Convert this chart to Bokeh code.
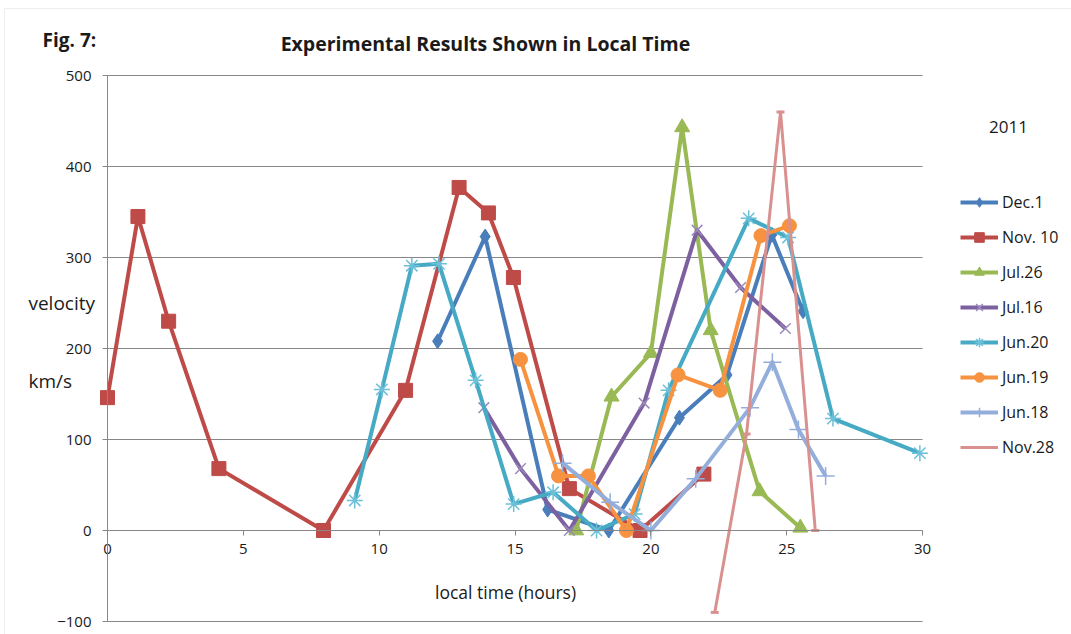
from bokeh.plotting import figure
from bokeh.models import (Range1d, Label, Legend, LegendItem, FixedTicker,
                          ColumnDataSource, BoxAnnotation)
from bokeh.embed import file_html
from bokeh.resources import INLINE

FONT = "Open Sans"

# axis ticks
x_ticks = [0, 5, 10, 15, 20, 25, 30]
y_ticks = [-100, 0, 100, 200, 300, 400, 500]

# local time (hours) and velocity (km/s) per observation day
dec1_t = [12.15, 13.9, 16.2, 18.45, 21.05, 22.8, 24.45, 25.6]
dec1_v = [208, 323, 23, 0, 124, 171, 325, 241]

nov10_t = [0, 1.12, 2.25, 4.1, 7.95, 10.97, 12.94, 14.02, 14.94, 17.0, 19.6, 21.95]
nov10_v = [146, 345, 230, 68, 0, 154, 377, 349, 278, 46, 0, 62]

jul26_t = [17.25, 18.55, 20.0, 21.15, 22.2, 24.0, 25.5]
jul26_v = [0, 147, 195, 443, 220, 43, 3]

jul16_t = [13.85, 15.2, 17.0, 19.75, 21.7, 23.3, 24.95]
jul16_v = [135, 68, 0, 140, 330, 267, 222]

jun20_t = [9.1, 10.1, 11.2, 12.2, 13.55, 14.95, 16.4, 18.0, 19.4, 20.65, 23.6, 25.05, 26.7, 29.9]
jun20_v = [33, 155, 291, 293, 165, 29, 42, 0, 18, 154, 343, 322, 123, 85]

jun19_t = [15.2, 16.6, 17.7, 19.1, 21.0, 22.55, 24.05, 25.1]
jun19_v = [188, 60, 60, 0, 171, 154, 324, 335]

jun18_t = [16.75, 18.5, 20.0, 21.65, 23.65, 24.47, 25.43, 26.43]
jun18_v = [74, 31, 0, 57, 135, 185, 111, 60]

nov28_t = [22.35, 23.52, 24.77, 26.05]
nov28_v = [-90, 106, 460, 0]

series = [
    # label, hours, velocity, line colour, marker, size, marker colour, marker line width
    ("Dec.1", dec1_t, dec1_v, "#4A7EBB", "diamond", 15, "#4A7EBB", 1),
    ("Nov. 10", nov10_t, nov10_v, "#BE4B48", "square", 14, "#BE4B48", 1),
    ("Jul.26", jul26_t, jul26_v, "#98B954", "triangle", 15, "#98B954", 1),
    ("Jul.16", jul16_t, jul16_v, "#7D60A0", "x", 15, "#9C88BC", 1.5),
    ("Jun.20", jun20_t, jun20_v, "#46AAC5", "asterisk", 16, "#6CC0D8", 1.5),
    ("Jun.19", jun19_t, jun19_v, "#F69240", "circle", 14, "#F69240", 1),
    ("Jun.18", jun18_t, jun18_v, "#93AEDB", "cross", 18, "#93AEDB", 1.5),
    ("Nov.28", nov28_t, nov28_v, "#D9918F", "dash", 8, "#D9918F", 3),
]

# The frame spans the whole canvas; axes sit at fixed data positions with bounds,
# so that titles, axis texts and the legend around the plot area are all drawn.
PX_PER_HOUR = 27.17
PX_PER_KMS = 0.91
x0_px, y0_px = 107, 530
W, H = 1071, 634
x_range = Range1d(-x0_px / PX_PER_HOUR, (W - x0_px) / PX_PER_HOUR)
y_range = Range1d(-(H - y0_px) / PX_PER_KMS, y0_px / PX_PER_KMS)

p = figure(width=W, height=H, x_range=x_range, y_range=y_range,
           output_backend="svg", toolbar_location=None,
           min_border=0)
p.outline_line_color = None
p.background_fill_color = "white"
p.border_fill_color = "white"

grey = "#878787"
ink = "#1a1a1a"

# y axis at zero hours
p.yaxis.fixed_location = 0
p.yaxis.bounds = (y_ticks[0], y_ticks[-1])
p.yaxis.ticker = FixedTicker(ticks=y_ticks)
p.yaxis.minor_tick_line_color = None
p.yaxis.major_tick_in = 0
p.yaxis.major_tick_out = 5
p.yaxis.axis_line_color = grey
p.yaxis.major_tick_line_color = grey
p.yaxis.major_label_text_font = FONT
p.yaxis.major_label_text_font_size = "15px"
p.yaxis.major_label_text_color = ink
p.yaxis.major_label_standoff = 11

# x axis crossing at zero velocity
p.xaxis.fixed_location = 0
p.xaxis.bounds = (x_ticks[0], x_ticks[-1])
p.xaxis.ticker = FixedTicker(ticks=x_ticks)
p.xaxis.minor_tick_line_color = None
p.xaxis.major_tick_in = 0
p.xaxis.major_tick_out = 5
p.xaxis.axis_line_color = grey
p.xaxis.major_tick_line_color = grey
p.xaxis.major_label_text_font = FONT
p.xaxis.major_label_text_font_size = "15px"
p.xaxis.major_label_text_color = ink
p.xaxis.major_label_standoff = 8

# horizontal gridlines across the plot area only
p.xgrid.visible = False
grid = p.ygrid[0]
if "cross_bounds" in grid.properties():
    grid.ticker = FixedTicker(ticks=y_ticks)
    grid.cross_bounds = (x_ticks[0], x_ticks[-1])
    grid.grid_line_color = grey
    grid.grid_line_width = 1
else:
    grid.visible = False
    p.segment(x0=[x_ticks[0]] * len(y_ticks), x1=[x_ticks[-1]] * len(y_ticks),
              y0=y_ticks, y1=y_ticks, line_color=grey, line_width=1,
              level="underlay")

items = []
for name, t, v, color, marker, size, mcolor, mwidth in series:
    src = ColumnDataSource(dict(t=t, v=v))
    lw = 3 if name == "Nov.28" else 4
    r_line = p.line("t", "v", source=src, line_color=color, line_width=lw,
                    line_join="round")
    r_mark = p.scatter("t", "v", source=src, marker=marker, size=size,
                       fill_color=mcolor, line_color=mcolor, line_width=mwidth)
    items.append(LegendItem(label=name, renderers=[r_line, r_mark]))

legend = Legend(items=items, location=(960, 175),
                glyph_width=38, glyph_height=24, label_height=24,
                label_standoff=4, spacing=11, padding=0, margin=0,
                border_line_color=None, background_fill_alpha=0,
                label_text_font=FONT, label_text_font_size="16px",
                label_text_color=ink)
p.add_layout(legend)

def add_text(x, y, text, size, bold=False, align="left"):
    p.add_layout(Label(x=x, y=y, text=text, text_font=FONT,
                       text_font_size=size, text_align=align,
                       text_baseline="middle", text_color=ink,
                       text_font_style="bold" if bold else "normal"))

add_text(13.91, 535.2, "Experimental Results Shown in Local Time", "19.5px", bold=True, align="center")
add_text(-2.39, 538.5, "Fig. 7:", "19px", bold=True)
add_text(-2.91, 250.5, "velocity", "19px")
add_text(-2.91, 164.8, "km/s", "19px")
add_text(14.65, -68.1, "local time (hours)", "17.5px", align="center")
add_text(33.16, 442.9, "2011", "17px", align="center")

# thin frame around the whole chart
p.add_layout(BoxAnnotation(left=-3.79, right=40, top=573.6, bottom=-130,
                           fill_alpha=0, line_color="#c4c4c4", line_width=1))

open("out.html", "w").write(file_html(p, INLINE))
